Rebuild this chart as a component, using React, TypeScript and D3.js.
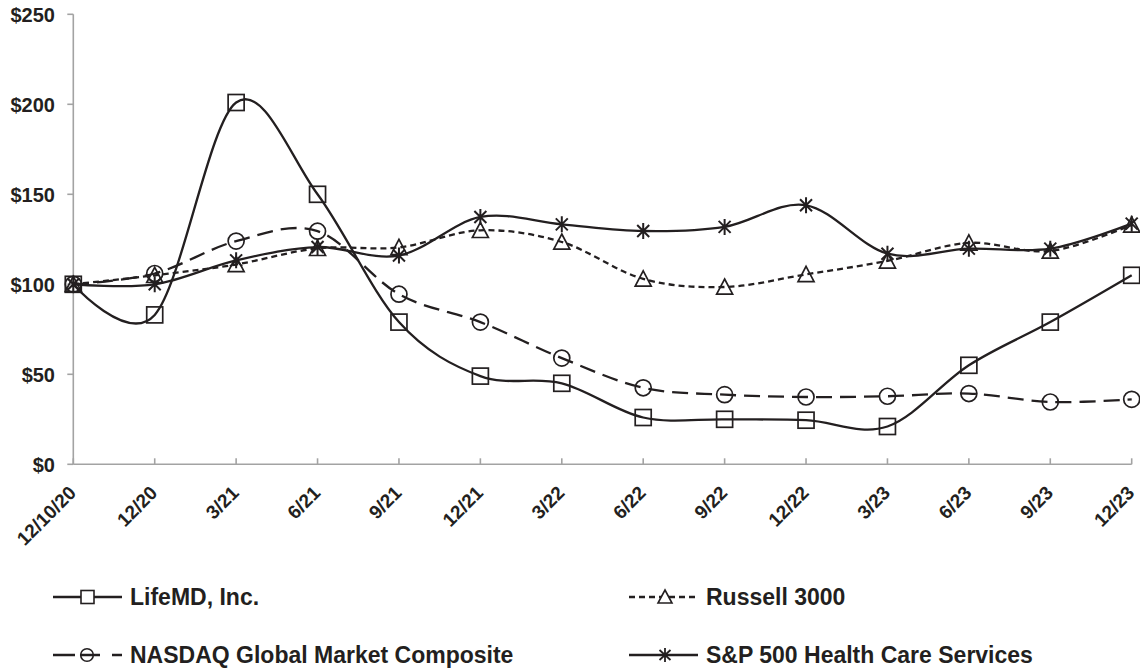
import React from "react";
import * as d3 from "d3";

const categories = ["12/10/20", "12/20", "3/21", "6/21", "9/21", "12/21", "3/22", "6/22", "9/22", "12/22", "3/23", "6/23", "9/23", "12/23"];
const lifemd = [100, 83, 201, 150, 79, 49, 45, 26, 25, 24.5, 21, 55, 79, 105];
const nasdaq = [100, 106, 124, 129.5, 94.5, 79, 59, 42.5, 38.7, 37.4, 37.8, 39.3, 34.6, 36.1];
const russell = [100, 105, 111, 120, 120.5, 130, 123.5, 103, 98.5, 105.5, 113, 123, 118.5, 133];
const sp500hcs = [100, 100, 113.3, 120.7, 116, 137.4, 133.3, 129.6, 131.9, 143.9, 117, 119.8, 119.8, 133.7];
const yTicks = [0, 50, 100, 150, 200, 250];
const seriesNames = ["LifeMD, Inc.", "Russell 3000", "NASDAQ Global Market Composite", "S&P 500 Health Care Services"];

const INK = "#231f20";
const AXIS = "#a3a3a3";
const FONT = "'Liberation Sans', Arial, Helvetica, sans-serif";

type Marker = "square" | "circle" | "triangle" | "star";

function MarkerShape({ kind, cx, cy, s }: { kind: Marker; cx: number; cy: number; s: number }) {
  const h = s / 2;
  const common = { fill: "none", stroke: INK, strokeWidth: 1.7 };
  if (kind === "square") return <rect x={cx - h} y={cy - h} width={s} height={s} {...common} />;
  if (kind === "circle") return <circle cx={cx} cy={cy} r={h} {...common} />;
  if (kind === "triangle")
    return <path d={`M${cx},${cy - h}L${cx + h},${cy + h * 0.9}L${cx - h},${cy + h * 0.9}Z`} {...common} />;
  const d = h * 0.75;
  return (
    <path
      d={`M${cx},${cy - h}L${cx},${cy + h}M${cx - d},${cy - d}L${cx + d},${cy + d}M${cx - d},${cy + d}L${cx + d},${cy - d}`}
      {...common}
      strokeWidth={2}
    />
  );
}

export default function App() {
  const x = d3.scalePoint<string>().domain(categories).range([73.3, 1131.7]);
  const y = d3.scaleLinear().domain([0, 250]).range([464.3, 14.3]);
  const line = d3
    .line<number>()
    .x((_, i) => x(categories[i]) as number)
    .y((v) => y(v))
    .curve(d3.curveCardinal.tension(0));

  const series: { name: string; data: number[]; marker: Marker; dash?: string }[] = [
    { name: seriesNames[2], data: nasdaq, marker: "circle", dash: "16,8" },
    { name: seriesNames[1], data: russell, marker: "triangle", dash: "6,4" },
    { name: seriesNames[3], data: sp500hcs, marker: "star" },
    { name: seriesNames[0], data: lifemd, marker: "square" },
  ];

  const x0 = x.range()[0];
  const x1 = x.range()[1];
  const y0 = y(0);

  return (
    <svg
      width={1140}
      height={672}
      style={{ position: "absolute", left: 0, top: 0, background: "#fff" }}
      fontFamily={FONT}
    >
      {/* axes */}
      <line x1={x0} x2={x0} y1={y(250)} y2={y0} stroke={AXIS} strokeWidth={1.6} />
      <line x1={x0} x2={x1} y1={y0} y2={y0} stroke={AXIS} strokeWidth={1.6} />
      {yTicks.map((t) => (
        <g key={t}>
          <line x1={x0 - 6} x2={x0} y1={y(t)} y2={y(t)} stroke={AXIS} strokeWidth={1.6} />
          <text x={55} y={y(t)} dy="0.36em" textAnchor="end" fontSize={20} fontWeight="bold" fill={INK}>
            {"$" + t}
          </text>
        </g>
      ))}
      {categories.map((c) => (
        <g key={c}>
          <line x1={x(c)} x2={x(c)} y1={y0 - 6} y2={y0} stroke={AXIS} strokeWidth={1.6} />
          <text
            transform={`translate(${(x(c) as number) - 1},${y0 + 25}) rotate(-45)`}
            dy="0.36em"
            textAnchor="end"
            fontSize={19}
            fontWeight="bold"
            fill={INK}
          >
            {c}
          </text>
        </g>
      ))}

      {/* lines */}
      {series.map((s) => (
        <path
          key={s.name}
          d={line(s.data) || ""}
          fill="none"
          stroke={INK}
          strokeWidth={2.3}
          strokeDasharray={s.dash}
        />
      ))}
      {series.map((s) =>
        s.data.map((v, i) => (
          <MarkerShape key={s.name + i} kind={s.marker} cx={x(categories[i]) as number} cy={y(v)} s={16} />
        ))
      )}

      {/* legend */}
      <g fontSize={23} fontWeight="bold" fill={INK}>
        <line x1={53} x2={122} y1={597} y2={597} stroke={INK} strokeWidth={2.3} />
        <rect x={81} y={590.5} width={13} height={13} fill="#fff" stroke={INK} strokeWidth={1.6} />
        <text x={130} y={597} dy="0.36em">{seriesNames[0]}</text>

        <line x1={53} x2={122} y1={655} y2={655} stroke={INK} strokeWidth={2.3} strokeDasharray="22,5,20,12,10" />
        <circle cx={87} cy={655} r={6.3} fill="none" stroke={INK} strokeWidth={1.6} />
        <text x={130} y={655} dy="0.36em">{seriesNames[2]}</text>

        <line x1={629} x2={698} y1={597} y2={597} stroke={INK} strokeWidth={2.3} strokeDasharray="6,4" />
        <path d="M665,590L672,603L658,603Z" fill="#fff" stroke={INK} strokeWidth={1.6} />
        <text x={706} y={597} dy="0.36em">{seriesNames[1]}</text>

        <line x1={629} x2={698} y1={655} y2={655} stroke={INK} strokeWidth={2.3} />
        <path d="M665,648L665,662M659.5,650L670.5,660M659.5,660L670.5,650" fill="none" stroke={INK} strokeWidth={1.8} />
        <text x={706} y={655} dy="0.36em">{seriesNames[3]}</text>
      </g>
    </svg>
  );
}
